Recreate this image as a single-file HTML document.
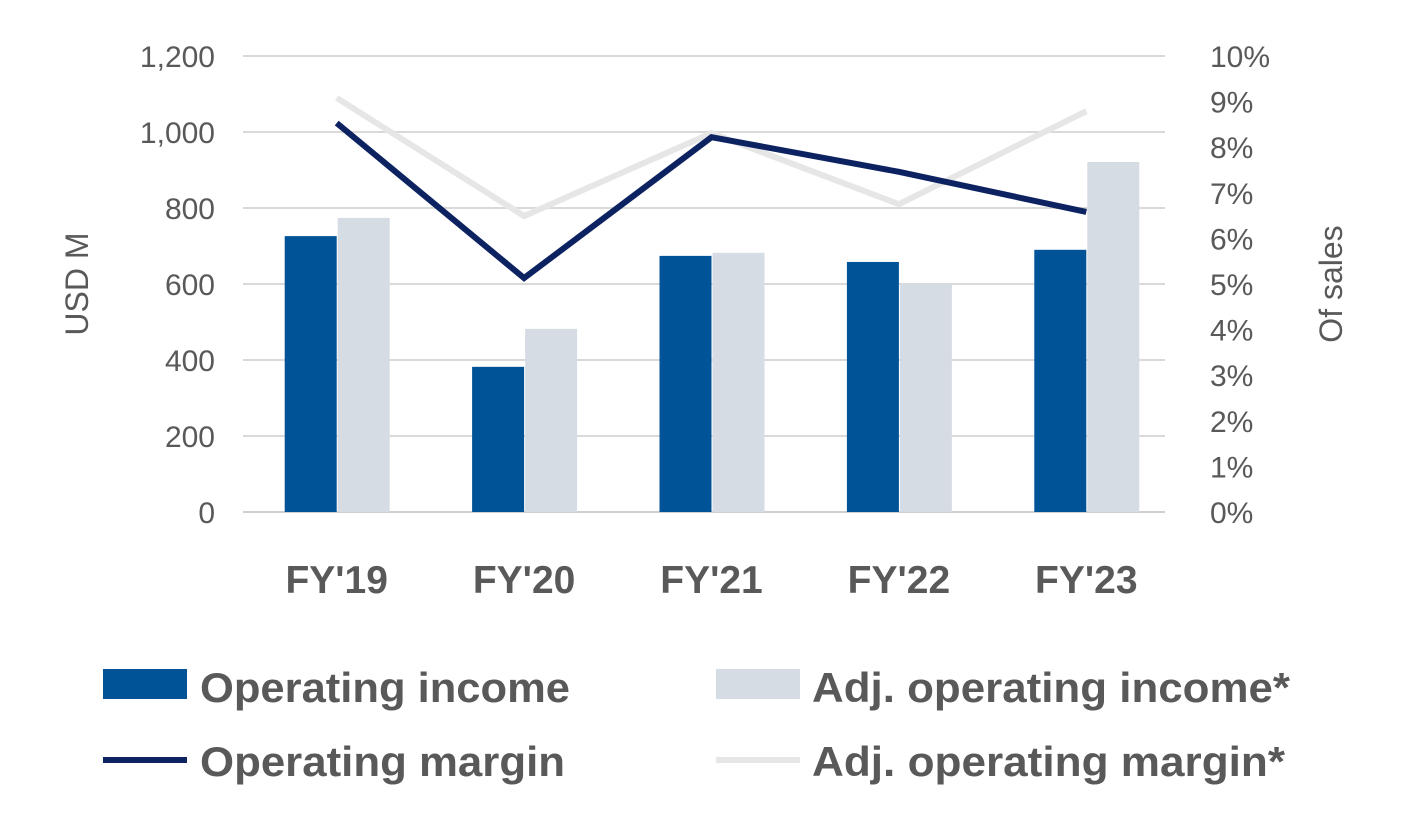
<!DOCTYPE html>
<html><head><meta charset="utf-8"><style>
html,body{margin:0;padding:0;background:#fff;}
svg{display:block;font-family:"Liberation Sans",sans-serif;}
</style></head><body>
<svg id="chart" width="1407" height="822" viewBox="0 0 1407 822">
<g id="grid"></g>
<g id="bars"></g>
<g id="lines"></g>
<g id="axes"></g>
<text x="88" y="284" transform="rotate(-90 88 284)" text-anchor="middle" font-size="32" fill="#595959">USD M</text>
<text x="1342" y="284" transform="rotate(-90 1342 284)" text-anchor="middle" font-size="32" fill="#595959">Of sales</text>
<g>
<rect x="103" y="669" width="84" height="30" fill="#005396"/>
<text x="200" y="702" font-size="42" font-weight="bold" fill="#595959" textLength="370" lengthAdjust="spacingAndGlyphs">Operating income</text>
<rect x="716" y="669" width="84" height="30" fill="#d6dce4"/>
<text x="812" y="702" font-size="42" font-weight="bold" fill="#595959" textLength="478" lengthAdjust="spacingAndGlyphs">Adj. operating income*</text>
<line x1="103" y1="760" x2="187" y2="760" stroke="#0d2361" stroke-width="6"/>
<text x="200" y="776" font-size="42" font-weight="bold" fill="#595959" textLength="365" lengthAdjust="spacingAndGlyphs">Operating margin</text>
<line x1="716" y1="760" x2="800" y2="760" stroke="#e6e6e6" stroke-width="6"/>
<text x="812" y="776" font-size="42" font-weight="bold" fill="#595959" textLength="473" lengthAdjust="spacingAndGlyphs">Adj. operating margin*</text>
</g>
</svg>
<script>
const categories=["FY'19","FY'20","FY'21","FY'22","FY'23"];
const operatingIncome=[726,382,674,658,690];
const adjOperatingIncome=[774,482,682,600,921];
const operatingMargin=[8.53,5.13,8.22,7.46,6.58];
const adjOperatingMargin=[9.08,6.49,8.31,6.75,8.79];
const leftTicks=[0,200,400,600,800,1000,1200];
const leftTickLabels=["0","200","400","600","800","1,000","1,200"];
const rightTicks=[0,1,2,3,4,5,6,7,8,9,10];

const NS="http://www.w3.org/2000/svg";
const X0=243,X1=1180,Y0=512,Y1=56;
const band=(X1-X0)/categories.length;
const yL=v=>Y0-(v/1200)*(Y0-Y1);
const yR=v=>Y0-(v/10)*(Y0-Y1);
const xc=i=>X0+band*(i+0.5);
function mk(tag,attrs,parent){const e=document.createElementNS(NS,tag);for(const k in attrs)e.setAttribute(k,attrs[k]);parent.appendChild(e);return e;}
const grid=document.getElementById('grid'),bars=document.getElementById('bars'),lines=document.getElementById('lines'),axes=document.getElementById('axes');
leftTicks.forEach((t,i)=>{
  const l=mk('line',{x1:X0,x2:X1-15,y1:yL(t),y2:yL(t),stroke:t===0?'#d0d0d0':'#d9d9d9','stroke-width':2},grid);
  
  
  const tx=mk('text',{x:215,y:yL(t)+11,'text-anchor':'end','font-size':30,fill:'#595959'},axes);
  tx.textContent=leftTickLabels[i];
  
  
});
rightTicks.forEach(t=>{
  const tx=mk('text',{x:1210,y:yR(t)+11,'font-size':30,fill:'#595959'},axes);
  tx.textContent=t+'%';
  
  
});
const bw=52;
categories.forEach((c,i)=>{
  const b1=mk('rect',{x:xc(i)-bw,y:yL(operatingIncome[i]),width:bw,height:Y0-yL(operatingIncome[i]),fill:'#005396'},bars);
  
  
  const b2=mk('rect',{x:xc(i)+1,y:yL(adjOperatingIncome[i]),width:bw,height:Y0-yL(adjOperatingIncome[i]),fill:'#d6dce4'},bars);
  
  
  const tx=mk('text',{x:xc(i),y:593,'text-anchor':'middle','font-size':39,'font-weight':'bold',fill:'#595959'},axes);
  tx.textContent=c;
  
  
});
const p2=mk('polyline',{points:adjOperatingMargin.map((v,i)=>xc(i)+','+yR(v)).join(' '),fill:'none',stroke:'#e6e6e6','stroke-width':6},lines);


const p1=mk('polyline',{points:operatingMargin.map((v,i)=>xc(i)+','+yR(v)).join(' '),fill:'none',stroke:'#0d2361','stroke-width':6},lines);


</script>
</body></html>
